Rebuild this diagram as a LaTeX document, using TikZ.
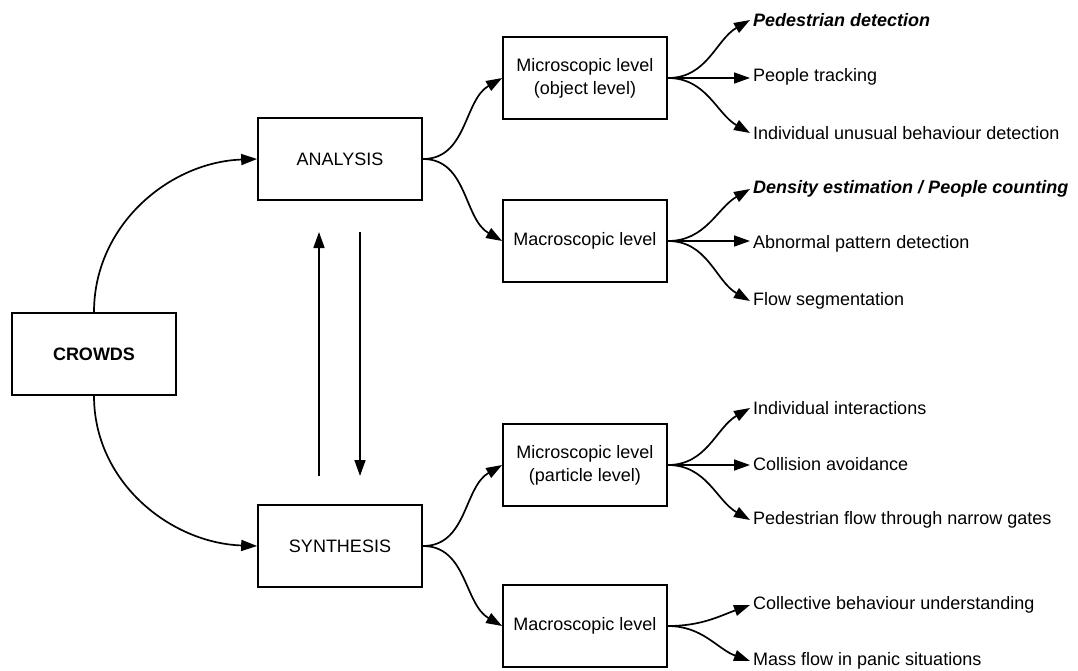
\documentclass[tikz,border=0pt]{standalone}
\usepackage{fontspec}
\setmainfont{Liberation Sans}
\usetikzlibrary{arrows.meta}
\begin{document}
\begin{tikzpicture}[x=1pt,y=1pt,
  box/.style={draw, line width=1.7pt, minimum width=164pt, minimum height=82pt,
    align=center, font=\fontsize{18}{23}\selectfont},
  leaf/.style={anchor=west, inner sep=3pt, font=\fontsize{18}{23}\selectfont},
  link/.style={line width=1.7pt, -{Triangle[length=16pt,width=11pt]}}]
  \useasboundingbox (0,0) rectangle (1078,-670);
  % Boxes
  \node[box] (crowds)    at (94,-354)  {\textbf{CROWDS}};
  \node[box] (analysis)  at (340,-159) {ANALYSIS};
  \node[box] (synthesis) at (340,-546) {SYNTHESIS};
  \node[box] (amicro)    at (585,-78)  {Microscopic level\\(object level)};
  \node[box] (amacro)    at (585,-241) {Macroscopic level};
  \node[box] (smicro)    at (585,-465) {Microscopic level\\(particle level)};
  \node[box] (smacro)    at (585,-626) {Macroscopic level};
  % Leaves
  \node[leaf] (a1) at (750,-20)  {\textbf{\textit{Pedestrian detection}}};
  \node[leaf] (a2) at (750,-77)  {People tracking};
  \node[leaf] (a3) at (750,-133) {Individual unusual behaviour detection};
  \node[leaf] (b1) at (750,-189) {\textbf{\textit{Density estimation / People counting}}};
  \node[leaf] (b2) at (750,-244) {Abnormal pattern detection};
  \node[leaf] (b3) at (750,-301) {Flow segmentation};
  \node[leaf] (c1) at (750,-408) {Individual interactions};
  \node[leaf] (c2) at (750,-464) {Collision avoidance};
  \node[leaf] (c3) at (750,-520) {Pedestrian flow through narrow gates};
  \node[leaf] (d1) at (750,-605) {Collective behaviour understanding};
  \node[leaf] (d2) at (750,-661) {Mass flow in panic situations};
  % Feedback between analysis and synthesis
  \coordinate (upfrom) at (319,-476);
  \coordinate (upto)   at (319,-232);
  \coordinate (dnfrom) at (360,-232);
  \coordinate (dnto)   at (360,-476);
  \draw[link] (upfrom) -- (upto);
  \draw[link] (dnfrom) -- (dnto);
  % Crowds to analysis / synthesis
  \draw[link] (crowds.north) to[out=90,in=182] (analysis.west);
  \draw[link] (crowds.south) to[out=-90,in=178] (synthesis.west);
  % Levels
  \draw[link] (analysis.east)  to[out=0,in=210] (amicro.west);
  \draw[link] (analysis.east)  to[out=0,in=150] (amacro.west);
  \draw[link] (synthesis.east) to[out=0,in=210] (smicro.west);
  \draw[link] (synthesis.east) to[out=0,in=150] (smacro.west);
  % Tasks
  \draw[link] (amicro.east) to[out=0,in=210] (a1.west);
  \draw[link] (amicro.east) -- (amicro.east -| a2.west);
  \draw[link] (amicro.east) to[out=0,in=150] (a3.west);
  \draw[link] (amacro.east) to[out=0,in=210] (b1.west);
  \draw[link] (amacro.east) -- (amacro.east -| b2.west);
  \draw[link] (amacro.east) to[out=0,in=150] (b3.west);
  \draw[link] (smicro.east) to[out=0,in=210] (c1.west);
  \draw[link] (smicro.east) -- (smicro.east -| c2.west);
  \draw[link] (smicro.east) to[out=0,in=150] (c3.west);
  \draw[link] (smacro.east) to[out=0,in=200] (d1.west);
  \draw[link] (smacro.east) to[out=0,in=160] (d2.west);
\end{tikzpicture}
\end{document}
